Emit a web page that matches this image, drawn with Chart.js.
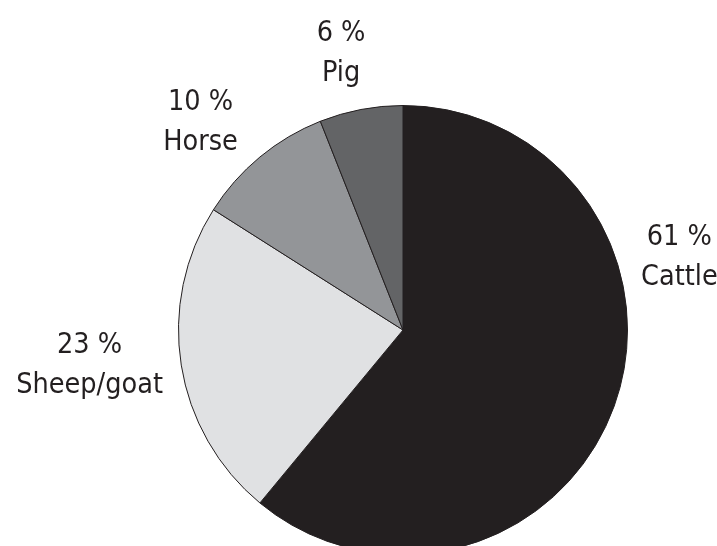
<!DOCTYPE html>
<html>
<head>
<meta charset="utf-8">
<script src="https://cdn.jsdelivr.net/npm/chart.js@4/dist/chart.umd.min.js"></script>
<style>
  html, body { margin: 0; padding: 0; background: #fff; overflow: hidden; }
  #wrap { width: 717px; height: 560px; position: relative; }
</style>
</head>
<body>
<div id="wrap"><canvas id="pieChart"></canvas></div>
<script>
// chart data
const animals = ['Cattle', 'Sheep/goat', 'Horse', 'Pig'];
const shares = [61, 23, 10, 6];

const sliceColors = ['#231f20', '#e0e1e3', '#939598', '#636466'];

// label spots, in units of the pie radius from the pie centre
const labelSpots = [
    { fx: 1.231, fy: -0.378 },
    { fx: -1.396, fy: 0.102 },
    { fx: -0.902, fy: -0.982 },
    { fx: -0.276, fy: -1.289 }
];

const outsideLabels = {
    id: 'outsideLabels',
    afterDraw(chart) {
        const ctx = chart.ctx;
        const arc = chart.getDatasetMeta(0).data[0];
        const cx = arc.x, cy = arc.y, r = arc.outerRadius;
        ctx.save();
        ctx.fillStyle = '#231f20';
        ctx.font = '28.5px "DejaVu Sans Condensed", "DejaVu Sans", sans-serif';
        ctx.textAlign = 'center';
        ctx.textBaseline = 'alphabetic';
        animals.forEach((name, i) => {
            const x = cx + labelSpots[i].fx * r;
            const y = cy + labelSpots[i].fy * r;
            ctx.fillText(shares[i] + ' %', x, y);
            ctx.fillText(name, x, y + 40);
        });
        ctx.restore();
    }
};

new Chart(document.getElementById('pieChart'), {
    type: 'pie',
    data: {
        labels: animals,
        datasets: [{
            data: shares,
            backgroundColor: sliceColors,
            borderColor: '#231f20',
            borderWidth: 1
        }]
    },
    options: {
        responsive: true,
        maintainAspectRatio: false,
        animation: false,
        layout: { padding: { left: 178, right: 89, top: 105, bottom: 5 } },
        plugins: {
            legend: { display: false },
            tooltip: { enabled: false }
        }
    },
    plugins: [outsideLabels]
});
</script>
</body>
</html>
